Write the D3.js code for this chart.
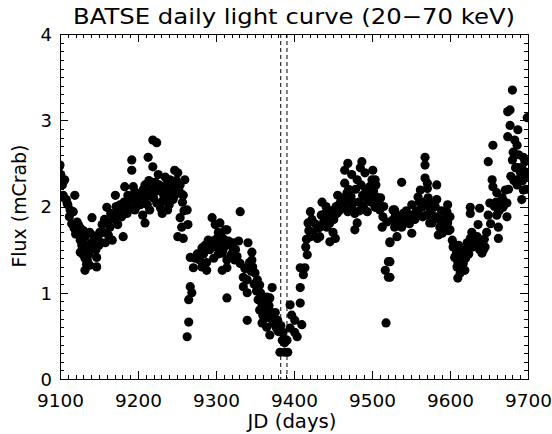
<!DOCTYPE html>
<html>
<head>
<meta charset="utf-8">
<script src="https://cdn.jsdelivr.net/npm/d3@7"></script>
<style>
  html, body { margin: 0; padding: 0; background: #fff; }
  svg { display: block; }
  text { font-family: "DejaVu Sans", sans-serif; fill: #000; }
</style>
</head>
<body>
<svg id="chart" width="552" height="434"></svg>
<script>
const title = "BATSE daily light curve (20\u221270 keV)";
const xLabel = "JD (days)";
const yLabel = "Flux (mCrab)";
const xTicks = [9100, 9200, 9300, 9400, 9500, 9600, 9700];
const yTicks = [0, 1, 2, 3, 4];
const markerDays = [9383, 9391];

// [JD - 2440000, flux in mCrab]
const observations = [
  [9099,2.46],[9100,2.48],[9101,2.37],[9103,2.25],[9104,2.28],[9103,2.11],[9104,2.13],[9106,2.31],
  [9108,2.08],[9109,2.04],[9110,2.02],[9113,1.96],[9119,2.13],[9117,1.94],[9122,1.82],[9123,1.70],
  [9126,1.61],[9128,1.61],[9128,1.55],[9126,1.47],[9132,1.40],[9135,1.38],[9132,1.26],[9138,1.32],
  [9141,1.87],[9138,1.70],[9142,1.53],[9145,1.61],[9147,1.41],[9147,1.30],[9151,1.70],[9150,1.55],
  [9126,1.75],[9132,1.65],[9136,1.55],
  [9112,1.88],[9115,1.80],[9118,1.75],[9120,1.68],[9124,1.78],[9127,1.68],[9130,1.72],[9133,1.50],
  [9137,1.45],[9140,1.58],[9143,1.66],[9146,1.50],[9149,1.62],[9129,1.45],[9134,1.33],
  [9158,1.58],[9160,1.99],[9164,1.76],[9171,2.13],[9173,1.92],[9174,1.79],[9181,1.65],[9183,2.23],
  [9186,1.92],[9192,2.54],[9192,2.42],[9194,2.23],[9192,2.08],[9196,1.96],[9200,2.08],[9206,1.90],
  [9209,1.81],[9213,2.57],[9219,2.46],[9219,2.77],[9224,2.74],[9209,2.25],[9215,2.13],[9222,2.28],
  [9224,2.04],[9231,1.92],[9235,2.34],[9241,2.31],[9247,2.42],[9251,2.39],[9250,2.19],[9245,2.08],
  [9238,1.96],[9263,1.96],[9254,1.87],[9256,1.76],[9264,1.79],[9251,1.65],[9258,1.63],[9267,1.41],
  [9273,1.40],[9271,1.29],[9282,1.52],[9288,1.35],[9295,1.87],[9299,1.79],[9303,1.70],[9312,1.73],
  [9290,1.61],[9301,1.53],[9308,1.46],[9314,1.38],[9321,1.53],[9318,1.41],[9308,1.26],[9288,1.26],
  [9282,1.30],
  [9177,2.02],[9187,2.13],[9196,2.17],[9203,2.02],[9205,2.13],[9212,2.02],[9215,1.96],[9228,2.19],
  [9233,2.08],[9235,2.13],[9237,2.21],[9244,2.19],[9247,2.13],[9254,2.25],[9258,2.13],[9260,2.31],
  [9226,2.37],[9168,1.90],[9154,1.79],[9162,1.67],[9167,1.61],
  [9155,1.70],[9157,1.85],[9161,1.82],[9165,1.92],[9170,1.85],[9172,2.00],[9176,1.95],[9179,1.88],
  [9182,2.05],[9185,2.00],[9188,2.05],[9190,1.98],[9195,2.10],[9198,2.00],
  [9202,2.15],[9207,2.20],[9210,2.10],[9214,2.30],[9217,2.20],[9220,2.10],[9223,2.18],[9227,2.25],
  [9230,2.05],[9232,2.15],[9236,2.25],[9239,2.10],[9242,2.20],[9246,2.25],[9249,2.30],[9252,2.20],
  [9255,2.15],[9257,2.05],[9259,1.95],[9240,2.02],[9229,1.98],
  [9267,1.07],[9269,1.00],[9265,0.92],[9265,0.66],[9263,0.49],
  [9276,1.45],[9279,1.38],[9284,1.45],[9286,1.55],[9292,1.50],[9294,1.60],[9297,1.55],[9300,1.62],
  [9304,1.58],[9306,1.66],[9310,1.62],[9313,1.55],[9316,1.60],[9320,1.45],[9325,1.50],[9327,1.42],
  [9329,1.60],[9297,1.40],[9303,1.45],
  [9305,1.81],[9314,1.73],[9309,1.50],[9322,1.58],[9324,1.38],[9314,1.29],[9331,1.94],[9331,1.34],
  [9335,1.18],[9341,1.58],[9346,1.47],[9346,1.38],[9347,1.30],[9350,1.23],[9353,1.15],[9356,1.09],
  [9340,1.15],[9335,1.07],[9340,1.00],[9314,0.94],[9354,0.92],[9359,0.86],[9365,0.95],[9372,1.06],
  [9369,0.94],[9356,0.80],[9360,0.74],[9369,0.78],[9376,0.77],[9367,0.72],[9359,0.65],[9365,0.60],
  [9373,0.65],[9379,0.68],[9340,0.68],[9369,0.51],[9379,0.57],[9386,0.54],[9385,0.45],[9388,0.42],
  [9382,0.31],[9388,0.31],[9392,0.31],[9391,0.45],[9395,0.59],[9397,0.74],[9395,0.86],[9401,0.68],
  [9401,0.54],[9404,0.49],[9410,0.63],[9408,0.88],[9408,1.06],[9408,1.29],[9414,1.29],[9412,1.21],
  [9337,1.28],[9343,1.35],[9345,1.25],[9349,1.10],[9352,1.02],[9357,1.00],[9362,0.90],[9364,0.82],
  [9368,0.85],[9371,0.70],[9374,0.72],[9377,0.60],[9380,0.55],[9383,0.62],[9362,0.70],
  [9417,1.44],[9415,1.53],[9421,1.65],[9418,1.81],[9421,1.94],[9424,1.70],[9430,1.63],[9433,1.65],
  [9436,2.05],[9440,1.92],[9433,1.76],[9442,1.76],[9446,1.81],[9446,1.59],[9450,1.70],[9453,1.63],
  [9455,1.92],[9456,2.13],[9459,2.04],[9463,1.99],[9465,2.27],[9468,2.16],[9472,2.08],[9469,1.94],
  [9474,1.99],[9478,1.92],[9481,1.81],[9478,1.73],[9481,2.31],[9488,2.13],[9494,2.08],[9494,1.94],
  [9500,2.31],[9497,2.23],[9506,2.11],[9504,1.99],[9510,1.96],[9514,1.88],[9513,1.76],[9519,1.82],
  [9523,1.59],[9527,1.96],[9529,1.76],[9533,1.84],[9521,1.36],[9517,1.26],[9521,1.18],[9518,0.65],
  [9465,2.42],[9469,2.50],[9474,2.37],[9485,2.45],[9487,2.52],[9491,2.39],[9501,2.42],[9504,2.31],
  [9419,1.72],[9423,1.85],[9427,1.80],[9431,1.75],[9435,1.90],[9438,1.82],[9441,2.00],[9444,1.88],
  [9448,1.95],[9451,1.85],[9454,2.00],[9458,1.95],[9461,2.10],[9416,1.62],
  [9466,2.05],[9470,2.20],[9473,2.12],[9476,2.05],[9479,2.20],[9483,2.05],[9486,2.25],[9489,2.00],
  [9492,2.20],[9496,2.12],[9499,2.05],[9502,2.18],[9505,2.25],[9508,2.05],[9511,2.10],[9515,2.00],
  [9484,1.95],
  [9530,1.90],[9535,1.88],[9542,1.85],[9544,1.95],[9548,1.80],[9550,1.90],[9555,1.85],[9557,1.95],
  [9561,2.05],[9566,2.05],[9570,1.90],[9576,1.95],[9579,1.85],[9581,2.00],[9586,1.85],[9589,1.95],
  [9592,1.85],[9594,1.78],[9598,1.72],
  [9680,3.35],[9674,3.10],[9677,3.12],[9699,3.03],[9677,2.94],[9687,2.89],[9674,2.81],[9683,2.77],
  [9686,2.71],[9681,2.63],[9680,2.54],[9694,2.57],[9696,2.52],[9692,2.45],[9655,2.71],[9649,2.52],
  [9687,2.45],[9696,2.34],[9686,2.31],[9686,2.25],[9694,2.19],[9692,2.08],[9654,2.31],[9655,2.23],
  [9660,2.16],[9671,2.19],[9673,2.04],[9668,1.99],[9673,1.88],[9651,2.04],[9649,1.90],[9660,1.90],
  [9662,1.76],[9662,1.63],[9626,1.99],[9638,1.98],[9626,1.92],[9636,1.79],[9628,1.70],[9626,1.63],
  [9635,1.65],[9642,1.61],[9645,1.53],[9638,1.50],[9629,1.53],[9641,1.46],[9623,1.50],[9622,1.58],
  [9617,1.47],[9609,1.50],[9606,1.41],[9610,1.36],[9609,1.30],[9617,1.34],[9619,1.26],[9613,1.23],
  [9610,1.17],[9603,1.61],[9600,1.73],[9604,1.53],[9597,2.02],[9596,1.94],[9600,1.88],[9597,1.81],
  [9587,1.76],[9590,1.69],[9585,1.67],[9583,1.88],[9577,1.81],[9574,1.98],[9583,2.08],[9583,2.25],
  [9572,2.10],[9571,2.21],[9568,2.33],[9568,2.48],[9568,2.57],[9571,2.27],[9562,2.19],[9559,2.11],
  [9564,1.99],[9559,1.92],[9565,1.88],[9574,1.81],[9574,2.04],[9551,2.02],[9553,1.90],[9551,1.69],
  [9546,1.84],[9540,1.92],[9538,1.76],[9532,1.81],[9529,1.96],[9526,1.84],[9532,1.65],[9523,1.58],
  [9538,2.28],[9523,1.36],[9523,1.18],
  [9605,1.55],[9608,1.45],[9611,1.55],[9614,1.40],[9615,1.50],[9620,1.40],[9624,1.45],[9627,1.58],
  [9631,1.60],[9633,1.55],[9637,1.58],[9640,1.55],[9644,1.62],[9647,1.70],[9643,1.50],
  [9652,1.80],[9657,2.00],[9659,2.05],[9663,1.95],[9665,2.00],[9667,2.10],[9670,2.05],[9675,2.20],
  [9678,2.35],[9682,2.30],[9684,2.45],[9688,2.60],[9690,2.40],[9693,2.30],[9697,2.40],[9698,2.20]
];

const svg = d3.select("#chart");
const m = { left: 60, right: 528, top: 34, bottom: 379 };

const x = d3.scaleLinear().domain([9100, 9700]).range([m.left, m.right]);
const y = d3.scaleLinear().domain([0, 4]).range([m.bottom, m.top]);

const xMinor = d3.range(9100, 9701, 10).filter(v => !xTicks.includes(v));
const yMinor = d3.range(0, 40.5, 1).map(v => v / 10).filter(v => Math.abs(v - Math.round(v)) > 1e-6);

svg.append("defs").append("clipPath").attr("id", "plotclip")
  .append("rect").attr("x", m.left).attr("y", m.top)
  .attr("width", m.right - m.left).attr("height", m.bottom - m.top);

// points
svg.append("g").attr("clip-path", "url(#plotclip)")
  .selectAll("circle").data(observations).join("circle")
  .attr("cx", d => x(d[0])).attr("cy", d => y(d[1]))
  .attr("r", 4.6).attr("fill", "#000");

// dashed marker lines
svg.append("g").selectAll("line").data(markerDays).join("line")
  .attr("x1", d => x(d)).attr("x2", d => x(d))
  .attr("y1", m.top).attr("y2", m.bottom)
  .attr("stroke", "#000").attr("stroke-width", 1)
  .attr("stroke-dasharray", "4,3");

function styleAxis(g) {
  g.select(".domain").remove();
  g.selectAll("line").attr("stroke", "#000").attr("stroke-width", 1).attr("shape-rendering", "crispEdges");
}

// bottom axis
svg.append("g").attr("transform", `translate(0,${m.bottom})`)
  .call(d3.axisBottom(x).tickValues(xMinor).tickSize(-4).tickFormat(""))
  .call(styleAxis);
const bx = svg.append("g").attr("transform", `translate(0,${m.bottom})`)
  .call(d3.axisBottom(x).tickValues(xTicks).tickSize(-8).tickFormat(d3.format("d")).tickPadding(0))
  .call(styleAxis);
bx.selectAll("text").attr("font-size", 18).attr("y", 28).attr("dy", null)
  .attr("textLength", 47).attr("lengthAdjust", "spacingAndGlyphs")
  .attr("font-family", "DejaVu Sans, sans-serif");

// top axis
svg.append("g").attr("transform", `translate(0,${m.top})`)
  .call(d3.axisTop(x).tickValues(xMinor).tickSize(-4).tickFormat(""))
  .call(styleAxis);
svg.append("g").attr("transform", `translate(0,${m.top})`)
  .call(d3.axisTop(x).tickValues(xTicks).tickSize(-8).tickFormat(""))
  .call(styleAxis);

// left axis
svg.append("g").attr("transform", `translate(${m.left},0)`)
  .call(d3.axisLeft(y).tickValues(yMinor).tickSize(-4).tickFormat(""))
  .call(styleAxis);
const ly = svg.append("g").attr("transform", `translate(${m.left},0)`)
  .call(d3.axisLeft(y).tickValues(yTicks).tickSize(-8).tickFormat(d3.format("d")).tickPadding(0))
  .call(styleAxis);
ly.selectAll("text").attr("font-size", 18).attr("x", -8).attr("dy", "0.35em")
  .attr("font-family", "DejaVu Sans, sans-serif");

// right axis
svg.append("g").attr("transform", `translate(${m.right},0)`)
  .call(d3.axisRight(y).tickValues(yMinor).tickSize(-4).tickFormat(""))
  .call(styleAxis);
svg.append("g").attr("transform", `translate(${m.right},0)`)
  .call(d3.axisRight(y).tickValues(yTicks).tickSize(-8).tickFormat(""))
  .call(styleAxis);

// frame
svg.append("rect").attr("x", m.left).attr("y", m.top)
  .attr("width", m.right - m.left).attr("height", m.bottom - m.top)
  .attr("fill", "none").attr("stroke", "#000").attr("stroke-width", 1)
  .attr("shape-rendering", "crispEdges");

// title and labels
svg.append("text").attr("x", 294).attr("y", 24).attr("text-anchor", "middle")
  .attr("font-size", 22).attr("textLength", 442).attr("lengthAdjust", "spacingAndGlyphs")
  .text(title);
svg.append("text").attr("x", 292).attr("y", 428).attr("text-anchor", "middle")
  .attr("font-size", 19).attr("textLength", 89).attr("lengthAdjust", "spacingAndGlyphs")
  .text(xLabel);
svg.append("text").attr("transform", `translate(26,206) rotate(-90)`)
  .attr("text-anchor", "middle").attr("font-size", 19)
  .attr("textLength", 123).attr("lengthAdjust", "spacingAndGlyphs")
  .text(yLabel);
</script>
</body>
</html>
